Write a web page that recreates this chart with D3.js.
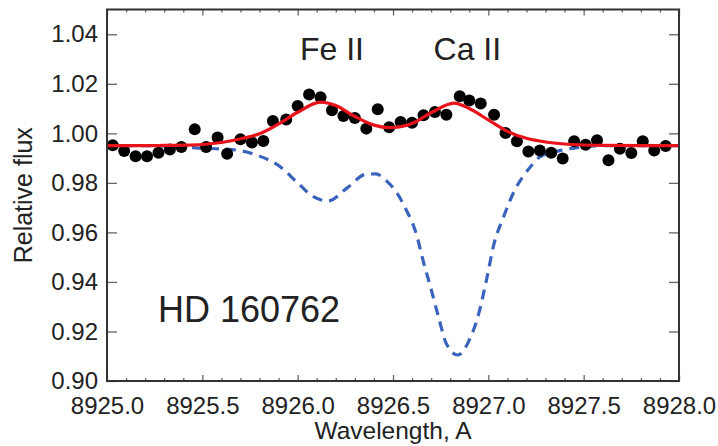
<!DOCTYPE html>
<html>
<head>
<meta charset="utf-8">
<script src="https://cdn.jsdelivr.net/npm/d3@7"></script>
<style>
  html, body { margin: 0; padding: 0; background: #fff; }
  svg { display: block; }
  text { font-family: "Liberation Sans", Arial, Helvetica, sans-serif; fill: #222; }
</style>
</head>
<body>
<svg id="chart" width="718" height="446"></svg>
<script>
// ---- data ----
const xTicks = [8925.0, 8925.5, 8926.0, 8926.5, 8927.0, 8927.5, 8928.0];
const yTicks = [0.90, 0.92, 0.94, 0.96, 0.98, 1.00, 1.02, 1.04];

const obsWave = [8925.03, 8925.09, 8925.15, 8925.21, 8925.27, 8925.33, 8925.39, 8925.46, 8925.52, 8925.58,
  8925.63, 8925.70, 8925.76, 8925.82, 8925.87, 8925.94, 8926.00, 8926.06, 8926.12, 8926.18,
  8926.24, 8926.30, 8926.36, 8926.42, 8926.48, 8926.54, 8926.60, 8926.66, 8926.72, 8926.78,
  8926.85, 8926.90, 8926.96, 8927.03, 8927.09, 8927.15, 8927.21, 8927.27, 8927.33, 8927.39,
  8927.45, 8927.51, 8927.57, 8927.63, 8927.69, 8927.75, 8927.81, 8927.87, 8927.93];
const obsFlux = [0.9952, 0.9929, 0.9907, 0.9907, 0.9922, 0.9935, 0.9945, 1.0016, 0.9945, 0.9983,
  0.9918, 0.9976, 0.9963, 0.9969, 1.0050, 1.0056, 1.0110, 1.0157, 1.0146, 1.0093,
  1.0070, 1.0062, 1.0019, 1.0097, 1.0025, 1.0046, 1.0043, 1.0073, 1.0086, 1.0075,
  1.0150, 1.0133, 1.0120, 1.0075, 1.0001, 0.9968, 0.9927, 0.9931, 0.9922, 0.9898,
  0.9968, 0.9954, 0.9972, 0.9891, 0.9938, 0.9921, 0.9968, 0.9931, 0.9949];

const fitWave = [8925.0, 8925.1, 8925.2, 8925.3, 8925.4, 8925.5, 8925.6, 8925.7, 8925.8, 8925.9,
  8926.0, 8926.12, 8926.2, 8926.3, 8926.4, 8926.48, 8926.6, 8926.7, 8926.82, 8926.9,
  8927.0, 8927.1, 8927.2, 8927.3, 8927.4, 8927.5, 8927.6, 8927.8, 8928.0];
const fitFlux = [0.9950, 0.9950, 0.9950, 0.9951, 0.9952, 0.9955, 0.9963, 0.9978, 0.9998, 1.0038,
  1.0085, 1.0126, 1.0112, 1.0068, 1.0033, 1.0023, 1.0040, 1.0083, 1.0122, 1.0100,
  1.0054, 1.0008, 0.9980, 0.9965, 0.9957, 0.9953, 0.9951, 0.9950, 0.9950];

const modelWave = [8925.0, 8925.2, 8925.4, 8925.5, 8925.6, 8925.7, 8925.8, 8925.9, 8926.0, 8926.08,
  8926.16, 8926.26, 8926.36, 8926.41, 8926.47, 8926.52, 8926.57, 8926.62, 8926.66, 8926.70,
  8926.74, 8926.78, 8926.84, 8926.90, 8926.95, 8926.99, 8927.03, 8927.08, 8927.13, 8927.22,
  8927.27, 8927.38, 8927.48, 8927.6, 8928.0];
const modelFlux = [0.9950, 0.9950, 0.9945, 0.9940, 0.9937, 0.9930, 0.9908, 0.9870, 0.9800, 0.9745,
  0.9727, 0.9780, 0.9835, 0.9836, 0.9805, 0.9760, 0.9690, 0.9600, 0.9480, 0.9370,
  0.9255, 0.9150, 0.9105, 0.9165, 0.9273, 0.9407, 0.9555, 0.9663, 0.9757, 0.9864,
  0.9905, 0.9931, 0.9944, 0.9950, 0.9950];

const labels = [
  {text: "Fe II", wave: 8926.18, flux: 1.0298, size: 32},
  {text: "Ca II", wave: 8926.89, flux: 1.0298, size: 32},
  {text: "HD 160762", wave: 8925.745, flux: 0.9238, size: 36}
];

// ---- layout ----
const svg = d3.select("#chart");
const L = 107, R = 679, T = 9.5, B = 381;
const x = d3.scaleLinear().domain([8925.0, 8928.0]).range([L, R]);
const y = d3.scaleLinear().domain([0.90, 1.05]).range([B, T]);

const minorX = d3.range(8925.0, 8928.0001, 0.1).filter(v => Math.abs(Math.round(v * 2) - v * 2) > 1e-6);

function styleAxis(g) {
  g.select(".domain").remove();
  g.selectAll(".tick line").attr("stroke", "#666").attr("stroke-width", 1.3);
}

// minor x ticks bottom & top
svg.append("g").attr("transform", `translate(0,${B})`)
  .call(d3.axisBottom(x).tickValues(minorX).tickSizeInner(-3).tickSizeOuter(0).tickFormat(""))
  .call(styleAxis);
svg.append("g").attr("transform", `translate(0,${T})`)
  .call(d3.axisTop(x).tickValues(minorX).tickSizeInner(-3).tickSizeOuter(0).tickFormat(""))
  .call(styleAxis);
// major x ticks
svg.append("g").attr("transform", `translate(0,${B})`)
  .call(d3.axisBottom(x).tickValues(xTicks).tickSizeInner(-6).tickSizeOuter(0).tickPadding(16).tickFormat(d3.format(".1f")))
  .call(styleAxis)
  .call(g => g.selectAll("text").attr("font-size", 24).style("fill", "#222"));
svg.append("g").attr("transform", `translate(0,${T})`)
  .call(d3.axisTop(x).tickValues(xTicks).tickSizeInner(-6).tickSizeOuter(0).tickFormat(""))
  .call(styleAxis);
// y ticks
svg.append("g").attr("transform", `translate(${L},0)`)
  .call(d3.axisLeft(y).tickValues(yTicks).tickSizeInner(-10).tickSizeOuter(0).tickPadding(9).tickFormat(d3.format(".2f")))
  .call(styleAxis)
  .call(g => g.selectAll("text").attr("font-size", 24).style("fill", "#222"));
svg.append("g").attr("transform", `translate(${R},0)`)
  .call(d3.axisRight(y).tickValues(yTicks).tickSizeInner(-10).tickSizeOuter(0).tickFormat(""))
  .call(styleAxis);

// curves
const lineModel = d3.line().x((d, i) => x(modelWave[i])).y((d, i) => y(modelFlux[i])).curve(d3.curveMonotoneX);
const lineFit = d3.line().x((d, i) => x(fitWave[i])).y((d, i) => y(fitFlux[i])).curve(d3.curveMonotoneX);

svg.append("path").attr("d", lineModel(modelWave))
  .attr("fill", "none").attr("stroke", "#3a63bd").attr("stroke-width", 3.2)
  .attr("stroke-dasharray", "10,7");

svg.append("g").selectAll("circle").data(obsWave).join("circle")
  .attr("cx", (d, i) => x(obsWave[i])).attr("cy", (d, i) => y(obsFlux[i]))
  .attr("r", 6).attr("fill", "#000");

svg.append("path").attr("d", lineFit(fitWave))
  .attr("fill", "none").attr("stroke", "#e8121b").attr("stroke-width", 3.2);

// frame
svg.append("rect").attr("x", L).attr("y", T).attr("width", R - L).attr("height", B - T)
  .attr("fill", "none").attr("stroke", "#333").attr("stroke-width", 2);

// annotations
svg.append("g").selectAll("text").data(labels).join("text")
  .attr("x", d => x(d.wave)).attr("y", d => y(d.flux))
  .attr("text-anchor", "middle").attr("font-size", d => d.size)
  .text(d => d.text);

// axis titles
svg.append("text").attr("x", (L + R) / 2).attr("y", 439).attr("text-anchor", "middle")
  .attr("font-size", 24.5).text("Wavelength, A");
svg.append("text").attr("transform", `translate(32,${(T + B) / 2}) rotate(-90)`)
  .attr("text-anchor", "middle").attr("font-size", 25).text("Relative flux");
</script>
</body>
</html>
